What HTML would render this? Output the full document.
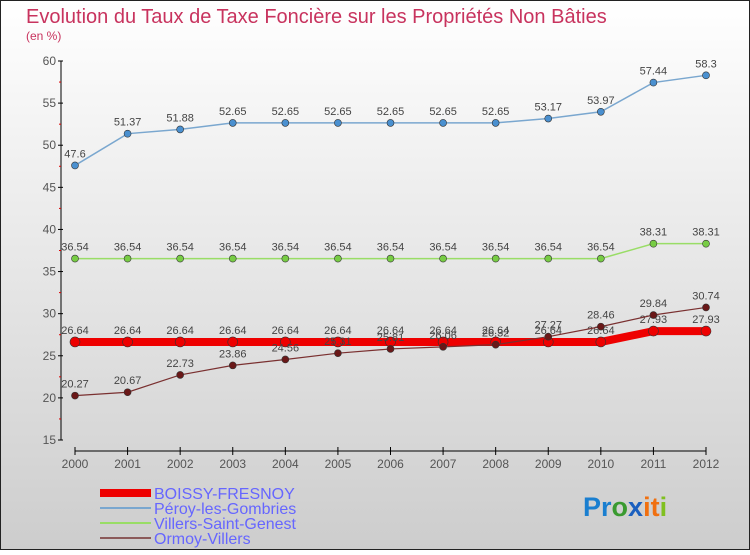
<!DOCTYPE html>
<html><head><meta charset="utf-8"><style>
body{margin:0;width:750px;height:550px;overflow:hidden;font-family:"Liberation Sans",sans-serif}
</style></head><body>
<svg width="750" height="550" xmlns="http://www.w3.org/2000/svg">
<defs><linearGradient id="bg" x1="0" y1="0" x2="0" y2="1"><stop offset="0" stop-color="#ffffff"/><stop offset="1" stop-color="#cdcdcd"/></linearGradient></defs>
<rect x="0.5" y="0.5" width="749" height="549" fill="url(#bg)" stroke="#222"/>
<text x="26" y="23" font-size="20" fill="#c8335e">Evolution du Taux de Taxe Foncière sur les Propriétés Non Bâties</text>
<text x="26" y="40" font-size="12" fill="#c8335e">(en %)</text>
<g id="axes"></g>
<g id="series"></g>
<g font-size="16" fill="#6666ff">
<rect x="100" y="489" width="51" height="8" fill="#e00"/>
<text x="154" y="499">BOISSY-FRESNOY</text>
<rect x="100" y="507" width="51" height="2" fill="#7aa7cf"/>
<text x="154" y="514">Péroy-les-Gombries</text>
<rect x="100" y="522" width="51" height="2" fill="#99dd66"/>
<text x="154" y="529">Villers-Saint-Genest</text>
<rect x="100" y="537" width="51" height="2" fill="#8b5a5a"/>
<text x="154" y="544">Ormoy-Villers</text>
</g>
<text x="583" y="516" font-size="27" font-weight="bold"><tspan fill="#1a7fd0">Pr</tspan><tspan fill="#3a9a30">o</tspan><tspan fill="#1a5fbf">x</tspan><tspan fill="#f07010">it</tspan><tspan fill="#80c020">i</tspan></text>
</svg>
<script>
const years=[2000,2001,2002,2003,2004,2005,2006,2007,2008,2009,2010,2011,2012];
const yTicks=[15,20,25,30,35,40,45,50,55,60];
const boissy=[26.64,26.64,26.64,26.64,26.64,26.64,26.64,26.64,26.64,26.64,26.64,27.93,27.93];
const peroy=[47.6,51.37,51.88,52.65,52.65,52.65,52.65,52.65,52.65,53.17,53.97,57.44,58.3];
const villers=[36.54,36.54,36.54,36.54,36.54,36.54,36.54,36.54,36.54,36.54,36.54,38.31,38.31];
const ormoy=[20.27,20.67,22.73,23.86,24.56,25.31,25.81,26.06,26.32,27.27,28.46,29.84,30.74];
const NS="http://www.w3.org/2000/svg";
const xs=i=>75+i*(631/12);
const ys=v=>440-(v-15)*(379/45);
function mk(tag,attrs,parent,text){const e=document.createElementNS(NS,tag);for(const k in attrs)e.setAttribute(k,attrs[k]);if(text!==undefined)e.textContent=text;parent.appendChild(e);return e;}
const ax=document.getElementById('axes');
let e=mk('line',{x1:61,y1:ys(60),x2:61,y2:ys(15),stroke:'#000'},ax);


e=mk('line',{x1:75,y1:451,x2:706,y2:451,stroke:'#000'},ax);


yTicks.forEach(t=>{
 mk('line',{x1:58,y1:ys(t),x2:63,y2:ys(t),stroke:'#000'},ax);
 if(t<60) mk('line',{x1:59,y1:ys(t+2.5),x2:61,y2:ys(t+2.5),stroke:'#d00'},ax);
 e=mk('text',{x:56,y:ys(t)+4,'font-size':12,'text-anchor':'end',fill:'#555'},ax,String(t));
 
 
});
years.forEach((y,i)=>{
 mk('line',{x1:xs(i),y1:447,x2:xs(i),y2:455,stroke:'#000'},ax);
 e=mk('text',{x:xs(i),y:468,'font-size':12,'text-anchor':'middle',fill:'#555'},ax,String(y));
 
 
});
const sg=document.getElementById('series');
function series(vals,color,width,r,fill,name,labelDy){
 const g=mk('g',{},sg);
 
 
 const p=mk('polyline',{points:vals.map((v,i)=>xs(i)+','+ys(v)).join(' '),fill:'none',stroke:color,'stroke-width':width},g);
 
 
 vals.forEach((v,i)=>{
  const c=mk('circle',{cx:xs(i),cy:ys(v),r:r,fill:fill,stroke:'#333','stroke-width':0.6},g);
  
  
  const t=mk('text',{x:xs(i),y:ys(v)+labelDy,'font-size':11,'text-anchor':'middle',fill:'#444'},g,String(v));
  
  
 });
}
series(peroy,'#7aa7cf',1.5,3.5,'#4a90d0','series-peroy',-8);
series(villers,'#99dd66',1.5,3.5,'#77cc44','series-villers',-8);
series(boissy,'#ee0000',8,5,'#ee0000','series-boissy',-8);
series(ormoy,'#7a3030',1.2,3.5,'#6a1818','series-ormoy',-8);
</script>
</body></html>
